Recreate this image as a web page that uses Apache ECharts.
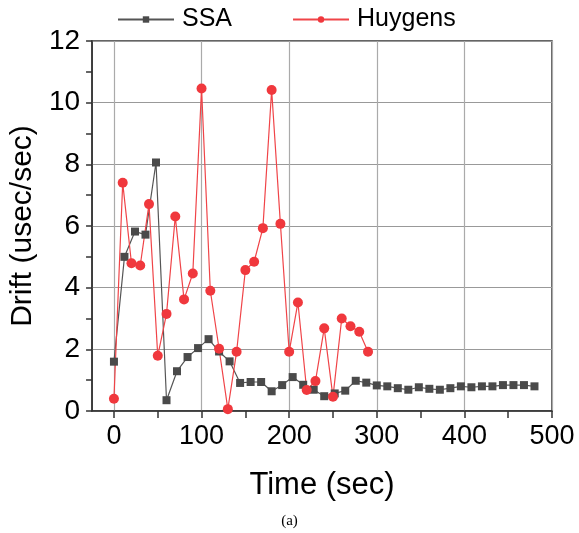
<!DOCTYPE html>
<html><head><meta charset="utf-8">
<script src="https://cdn.jsdelivr.net/npm/echarts@6/dist/echarts.min.js"></script>
<style>html,body{margin:0;padding:0;background:#fff}#c{width:579px;height:533px}</style>
</head><body><div id="c"></div>
<script>
const ssaTime = [0,12,24,36,48,60,72,84,96,108,120,132,144,156,168,180,192,204,216,228,240,252,264,276,288,300,312,324,336,348,360,372,384,396,408,420,432,444,456,468,480];
const ssaDrift = [1.6,5.0,5.82,5.72,8.06,0.35,1.29,1.75,2.04,2.33,1.93,1.61,0.91,0.94,0.94,0.64,0.84,1.10,0.85,0.69,0.48,0.57,0.66,0.98,0.92,0.83,0.80,0.74,0.69,0.77,0.72,0.69,0.74,0.80,0.77,0.80,0.80,0.84,0.84,0.84,0.80];
const huyTime = [0,10,20,30,40,50,60,70,80,90,100,110,120,130,140,150,160,170,180,190,200,210,220,230,240,250,260,270,280,290];
const huyDrift = [0.40,7.40,4.79,4.72,6.71,1.79,3.15,6.31,3.62,4.46,10.46,3.90,2.02,0.06,1.92,4.57,4.84,5.93,10.41,6.07,1.92,3.52,0.68,0.97,2.68,0.46,3.0,2.75,2.57,1.92];
const xTicks = [0,50,100,150,200,250,300,350,400,450,500];
const xLabels = [0,100,200,300,400,500];
const yTicks = [0,1,2,3,4,5,6,7,8,9,10,11,12];
const yLabels = [0,2,4,6,8,10,12];

const pair = (xs, ys) => xs.map((x, i) => [x, ys[i]]);
const chart = echarts.init(document.getElementById('c'));
const axisColor = '#333';
const font = 'Liberation Sans, Arial, sans-serif';
const hiddenAxis = {
  axisLine: {show: false, onZero: false},
  axisLabel: {show: false}
};
chart.setOption({
  animation: false,
  title: {
    text: '(a)', left: 'center', top: 509,
    textStyle: {fontFamily: 'Liberation Serif, Times New Roman, serif', fontSize: 15, fontWeight: 'normal', color: '#000'}
  },
  legend: {
    top: 2, left: 112, itemGap: 60, itemWidth: 56, itemHeight: 8,
    textStyle: {fontFamily: font, fontSize: 25, color: '#000', padding: [0,0,0,3]},
    data: ['SSA', 'Huygens']
  },
  grid: {left: 92, right: 27, top: 41, bottom: 122, show: true, borderColor: axisColor, borderWidth: 1.5, backgroundColor: 'transparent'},
  xAxis: [{
    type: 'value', min: -25, max: 500,
    name: 'Time (sec)', nameLocation: 'middle', nameGap: 59,
    nameTextStyle: {fontFamily: font, fontSize: 31, color: '#000'},
    axisLine: {show: true, onZero: false, lineStyle: {color: axisColor, width: 1.5}},
    axisTick: {show: true, inside: false, customValues: xTicks, length: 7, lineStyle: {color: axisColor, width: 1.5}},
    axisLabel: {customValues: xLabels, fontFamily: font, fontSize: 27, color: '#000', margin: 12},
    splitLine: {show: false}
  }, Object.assign({
    type: 'value', min: -25, max: 500, position: 'bottom',
    axisTick: {show: false, customValues: xLabels},
    splitLine: {show: true, lineStyle: {color: '#aaa', width: 1.2}}
  }, hiddenAxis)],
  yAxis: [{
    type: 'value', min: 0, max: 12, interval: 2,
    name: 'Drift (usec/sec)', nameLocation: 'middle', nameGap: 49,
    nameTextStyle: {fontFamily: font, fontSize: 30, color: '#000'},
    axisLine: {show: true, onZero: false, lineStyle: {color: axisColor, width: 1.5}},
    axisTick: {show: true, inside: false, customValues: yTicks, length: 6, lineStyle: {color: axisColor, width: 1.5}},
    axisLabel: {customValues: yLabels, fontFamily: font, fontSize: 28, color: '#000', margin: 12},
    splitLine: {show: false}
  }, Object.assign({
    type: 'value', min: 0, max: 12, interval: 2, position: 'left',
    axisTick: {show: false, customValues: yLabels},
    splitLine: {show: true, lineStyle: {color: '#999', width: 1.2}}
  }, hiddenAxis)],
  series: [
    {
      name: 'SSA', type: 'line', data: pair(ssaTime, ssaDrift),
      symbol: 'rect', symbolSize: 8,
      lineStyle: {color: '#555', width: 1.2},
      itemStyle: {color: '#4a4a4a'}
    },
    {
      name: 'Huygens', type: 'line', data: pair(huyTime, huyDrift),
      symbol: 'circle', symbolSize: 10,
      lineStyle: {color: '#f04448', width: 1.2},
      itemStyle: {color: '#f0383d'}
    }
  ]
});
</script></body></html>
